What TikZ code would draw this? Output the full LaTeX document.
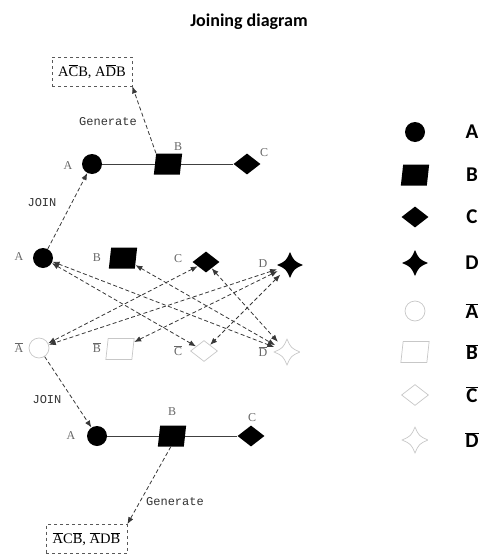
\documentclass[tikz,border=0pt]{standalone}
\usepackage{xcolor}
\usepackage{fontspec}
\setmainfont{Liberation Serif}
\newfontfamily\calib{Carlito}
\newfontfamily\monof{Liberation Mono}
\usepackage{tikz}
\usetikzlibrary{arrows.meta,shapes.geometric}
\definecolor{faint}{gray}{0.78}
\definecolor{lblgray}{gray}{0.4}
\definecolor{linkgray}{gray}{0.22}
\newcommand{\ovl}[1]{$\overline{\mbox{#1}}$}
\tikzset{
	shpA/.style={circle,fill=black,minimum size=20pt,inner sep=0pt},
	shpB/.style={rectangle,xslant=0.11,minimum width=26pt,minimum height=21pt,inner sep=0pt,fill=black},
	shpC/.style={diamond,minimum width=27pt,minimum height=21pt,inner sep=0pt,fill=black},
	shpD/.style={circle,minimum size=27pt,inner sep=0pt,path picture={
		\path[#1,shift={(path picture bounding box.center)}] (13pt,0pt) .. controls (4pt,4pt) .. (0pt,13pt) .. controls (-4pt,4pt) .. (-13pt,0pt) .. controls (-4pt,-4pt) .. (0pt,-13pt) .. controls (4pt,-4pt) .. (13pt,0pt) -- cycle;}},
	light/.style={fill=white,draw=faint,line width=0.7pt},
	lbl/.style={text=lblgray,font=\fontsize{12}{12}\selectfont,inner sep=0pt},
	note/.style={text=black!80,font=\monof\fontsize{12}{12}\selectfont,inner sep=0pt},
	legtext/.style={font=\calib\bfseries\fontsize{21}{21}\selectfont,inner sep=0pt},
	resbox/.style={draw=black!65,dashed,line width=0.7pt,minimum height=29pt,font=\fontsize{14.5}{14.5}\selectfont},
	link/.style={draw=linkgray,line width=0.8pt,dash pattern=on 4pt off 2.5pt,{Latex[length=7pt,width=5.5pt]}-{Latex[length=7pt,width=5.5pt]}},
	flow/.style={draw=linkgray,line width=0.8pt,dash pattern=on 4pt off 2.5pt,-{Latex[length=7pt,width=5.5pt]}}
}
\begin{document}
\begin{tikzpicture}[x=1pt,y=-1pt]
		\useasboundingbox (0,0) rectangle (488,554);
		\node[font=\calib\bfseries\fontsize{18}{18}\selectfont] (title) at (249,22) {Joining diagram};
		\node[resbox,minimum width=80pt] (topres) at (92,71.5) {A\ovl{C}B, A\ovl{D}B};
		\node[resbox,minimum width=81pt] (botres) at (86.5,539) {\ovl{A}C\ovl{B}, \ovl{A}D\ovl{B}};
		\node[note] (gen1) at (108,122) {Generate};
		\node[note] (gen2) at (175,502) {Generate};
		\node[note] (join1) at (42,203) {JOIN};
		\node[note] (join2) at (47,400) {JOIN};
		\node[shpA] (a1) at (92,164) {};
		\node[shpB] (b1) at (168,164) {};
		\node[shpC] (c1) at (247,164) {};
		\node[shpA] (a2) at (43,258) {};
		\node[shpB] (b2) at (123,258) {};
		\node[shpC] (c2) at (206,262) {};
		\node[shpD=fill] (d2) at (290,265) {};
		\node[shpA,light] (ab3) at (39,348) {};
		\node[shpB,light] (bb3) at (120,349) {};
		\node[shpC,light] (cb3) at (204,351) {};
		\node[shpD={draw=faint,line width=0.7pt}] (db3) at (287,352) {};
		\node[shpA] (a4) at (97,436) {};
		\node[shpB] (b4) at (172,436) {};
		\node[shpC] (c4) at (251,436) {};
		\node[lbl] (la1) at (68,166) {A};
		\node[lbl] (lb1) at (178,147) {B};
		\node[lbl] (lc1) at (264,153) {C};
		\node[lbl] (la2) at (19,257) {A};
		\node[lbl] (lb2) at (97,258) {B};
		\node[lbl] (lc2) at (178,259) {C};
		\node[lbl] (ld2) at (263,264) {D};
		\node[lbl] (lab3) at (19,348) {\ovl{A}};
		\node[lbl] (lbb3) at (97,348) {\ovl{B}};
		\node[lbl] (lcb3) at (178,351) {\ovl{C}};
		\node[lbl] (ldb3) at (263,352) {\ovl{D}};
		\node[lbl] (la4) at (71,436) {A};
		\node[lbl] (lb4) at (172,412) {B};
		\node[lbl] (lc4) at (252,418) {C};
		\draw[black!75,line width=0.6pt] (a1) -- (b1) (b1) -- (c1);
		\draw[black!75,line width=0.6pt] (a4) -- (b4) (b4) -- (c4);
		\draw[flow] (b1.north west) -- (topres.south east);
		\draw[flow] (b4.south) -- (botres.north east);
		\draw[flow] (a2) -- (a1);
		\draw[flow] (ab3) -- (a4);
		\draw[link] (a2) -- (cb3);
		\draw[link] (a2) -- (db3);
		\draw[link] (b2) -- (db3);
		\draw[link] (c2) -- (ab3);
		\draw[link] (c2) -- (db3);
		\draw[link] (d2) -- (ab3);
		\draw[link] (d2) -- (bb3);
		\draw[link] (d2) -- (cb3);
		\node[shpA] (kA) at (415,132) {};
		\node[shpB] (kB) at (415,175) {};
		\node[shpC] (kC) at (415,217) {};
		\node[shpD=fill] (kD) at (415,263) {};
		\node[shpA,light] (kAb) at (415,311) {};
		\node[shpB,light] (kBb) at (415,352) {};
		\node[shpC,light] (kCb) at (415,395) {};
		\node[shpD={draw=faint,line width=0.7pt}] (kDb) at (415,440) {};
		\node[legtext] (tA) at (472,132) {A};
		\node[legtext] (tB) at (472,175) {B};
		\node[legtext] (tC) at (472,217) {C};
		\node[legtext] (tD) at (472,263) {D};
		\node[legtext] (tAb) at (472,311) {\ovl{A}};
		\node[legtext] (tBb) at (472,352) {\ovl{B}};
		\node[legtext] (tCb) at (472,395) {\ovl{C}};
		\node[legtext] (tDb) at (472,440) {\ovl{D}};
	\end{tikzpicture}
\end{document}
